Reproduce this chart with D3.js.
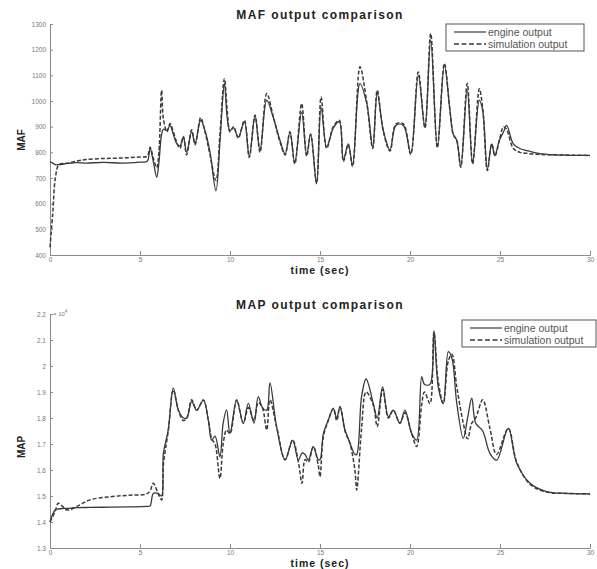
<!DOCTYPE html>
<html>
<head>
<meta charset="utf-8">
<script src="https://cdn.jsdelivr.net/npm/d3@7"></script>
<style>
  body { margin: 0; background: #fff; }
  svg { font-family: "Liberation Sans", Arial, sans-serif; }
</style>
</head>
<body>
<svg id="chart" width="597" height="569"></svg>
<script>
// MAF panel (time in sec)
const mafTime = [0, 0.15, 0.3, 0.5, 1.0, 1.5, 2.0, 3.0, 4.0, 5.0, 5.4, 5.56, 5.75, 5.93, 6.05, 6.2, 6.3, 6.5, 6.67, 6.85,
  7.04, 7.22, 7.41, 7.59, 7.87, 8.06, 8.37, 8.61, 8.89, 9.22, 9.45, 9.69, 9.85, 10.0, 10.2, 10.46, 10.8, 11.07, 11.39, 11.67,
  12.04, 12.4, 12.78, 13.06, 13.33, 13.6, 13.98, 14.26, 14.48, 14.81, 15.06, 15.37, 15.74, 16.07, 16.3, 16.57, 16.81, 17.22, 17.6, 17.93,
  18.18, 18.52, 18.89, 19.22, 19.63, 20.04, 20.46, 20.83, 21.15, 21.52, 21.91, 22.22, 22.4, 22.6, 22.82, 23.18, 23.48, 23.85, 24.04, 24.3,
  24.54, 24.72, 24.96, 25.2, 25.37, 25.74, 26.1, 26.48, 27.2, 28.1, 29.0, 30.0];
const mafEngine = [764, 758, 752, 752, 757, 760, 758, 761, 758, 762, 765, 815, 760, 703, 760, 870, 890, 885, 905, 870,
  834, 825, 859, 800, 880, 834, 925, 885, 800, 650, 850, 1068, 930, 885, 895, 859, 920, 785, 940, 810,
  1003, 937, 846, 794, 879, 760, 957, 790, 872, 677, 976, 820, 895, 920, 770, 833, 750, 1068, 990, 820,
  1030, 885, 810, 905, 905, 796, 1100, 898, 1237, 822, 1140, 963, 872, 846, 745, 1042, 758, 1003, 963, 735,
  833, 787, 846, 880, 905, 833, 815, 807, 795, 790, 788, 788];
const mafSim = [430, 560, 700, 752, 758, 766, 772, 776, 778, 782, 785, 820, 775, 740, 800, 1042, 930, 880, 912, 880,
  840, 815, 862, 790, 888, 830, 935, 880, 790, 690, 880, 1087, 960, 880, 900, 855, 925, 780, 945, 800,
  1029, 940, 840, 790, 880, 755, 990, 785, 870, 680, 1016, 815, 900, 925, 765, 830, 745, 1133, 995, 815,
  1042, 880, 805, 911, 911, 792, 1113, 895, 1263, 818, 1146, 963, 870, 846, 742, 1068, 755, 1048, 970, 729,
  833, 787, 846, 900, 890, 815, 800, 796, 792, 790, 789, 788];
const mafTicks = [400, 500, 600, 700, 800, 900, 1000, 1100, 1200, 1300];

// MAP panel (time in sec, values x10^4)
const mapTime = [0, 0.28, 0.46, 0.7, 0.93, 1.5, 2.22, 3.33, 4.4, 5.37, 5.56, 5.74, 6.0, 6.2, 6.3, 6.57, 6.85, 7.13, 7.41, 7.6,
  7.87, 8.15, 8.52, 8.8, 8.98, 9.17, 9.44, 9.62, 9.81, 10.0, 10.37, 10.74, 11.02, 11.33, 11.57, 11.8, 12.04, 12.22, 12.59, 13.06,
  13.48, 13.8, 14.0, 14.17, 14.35, 14.63, 14.9, 15.0, 15.19, 15.46, 15.74, 15.93, 16.11, 16.39, 16.67, 16.94, 17.04, 17.31, 17.56, 17.96,
  18.18, 18.48, 18.8, 19.07, 19.44, 19.72, 20.09, 20.37, 20.65, 20.8, 21.11, 21.33, 21.57, 21.85, 22.13, 22.33, 22.6, 22.96, 23.2, 23.43,
  23.65, 24.04, 24.44, 24.81, 25.46, 25.93, 26.67, 27.59, 28.7, 30.0];
const mapEngine = [1.40, 1.446, 1.45, 1.452, 1.452, 1.455, 1.456, 1.457, 1.458, 1.46, 1.462, 1.51, 1.51, 1.50, 1.664, 1.754, 1.915, 1.831, 1.80, 1.80,
  1.863, 1.83, 1.869, 1.79, 1.715, 1.73, 1.651, 1.78, 1.831, 1.74, 1.869, 1.78, 1.856, 1.78, 1.882, 1.84, 1.83, 1.935, 1.766, 1.638,
  1.715, 1.638, 1.665, 1.66, 1.638, 1.69, 1.64, 1.64, 1.741, 1.792, 1.837, 1.80, 1.843, 1.754, 1.703, 1.66, 1.66, 1.882, 1.95, 1.856,
  1.80, 1.92, 1.805, 1.83, 1.78, 1.83, 1.741, 1.715, 1.959, 1.93, 1.93, 2.135, 1.92, 1.856, 2.055, 2.03, 1.856, 1.722, 1.80, 1.876,
  1.78, 1.75, 1.664, 1.638, 1.76, 1.626, 1.549, 1.517, 1.51, 1.508];
const mapSim = [1.40, 1.44, 1.472, 1.46, 1.446, 1.46, 1.485, 1.497, 1.503, 1.508, 1.52, 1.549, 1.51, 1.485, 1.62, 1.75, 1.908, 1.83, 1.79, 1.80,
  1.87, 1.83, 1.869, 1.79, 1.72, 1.70, 1.568, 1.70, 1.754, 1.74, 1.869, 1.78, 1.84, 1.79, 1.86, 1.84, 1.754, 1.87, 1.766, 1.64,
  1.715, 1.63, 1.549, 1.64, 1.63, 1.69, 1.62, 1.574, 1.73, 1.79, 1.837, 1.79, 1.843, 1.75, 1.70, 1.60, 1.523, 1.76, 1.90, 1.85,
  1.767, 1.91, 1.80, 1.83, 1.78, 1.82, 1.741, 1.69, 1.85, 1.90, 1.856, 2.13, 1.94, 1.856, 2.02, 2.045, 1.92, 1.78, 1.72, 1.78,
  1.80, 1.87, 1.76, 1.66, 1.76, 1.63, 1.545, 1.515, 1.51, 1.508];
const mapTicks = [1.3, 1.4, 1.5, 1.6, 1.7, 1.8, 1.9, 2.0, 2.1, 2.2];

const timeTicks = [0, 5, 10, 15, 20, 25, 30];
const legendLabels = ["engine output", "simulation output"];

const svg = d3.select("#chart");
const lineColor = "#3a3a3a";
const axisColor = "#8a8a8a";

function drawPanel(cfg) {
  const x = d3.scaleLinear().domain([0, 30]).range([50, 590]);
  const y = d3.scaleLinear().domain(cfg.yDomain).range([cfg.bottom, cfg.top]);
  const g = svg.append("g");

  // axes (left + bottom only, like the original)
  const xAxis = g.append("g")
    .attr("transform", `translate(0,${cfg.bottom})`)
    .call(d3.axisBottom(x).tickValues(timeTicks).tickSize(-4).tickPadding(2));
  const yAxis = g.append("g")
    .attr("transform", "translate(50,0)")
    .call(d3.axisLeft(y).tickValues(cfg.ticks).tickSize(-3).tickPadding(4).tickFormat(cfg.fmt));
  [xAxis, yAxis].forEach(a => {
    a.select(".domain").attr("stroke", axisColor);
    a.selectAll(".tick line").attr("stroke", axisColor);
    a.selectAll(".tick text").attr("fill", "#777").style("font-size", "6.5px");
  });

  const pts = cfg.time.map((t, i) => ({ t, e: cfg.engine[i], s: cfg.sim[i] }));
  const mk = key => d3.line().x(d => x(d.t)).y(d => y(d[key])).curve(d3.curveCatmullRom.alpha(0.5));

  g.append("path").datum(pts).attr("d", mk("e"))
    .attr("fill", "none").attr("stroke", lineColor).attr("stroke-width", 1.3);
  g.append("path").datum(pts).attr("d", mk("s"))
    .attr("fill", "none").attr("stroke", lineColor).attr("stroke-width", 1.5)
    .attr("stroke-dasharray", "4,2");

  // title and labels
  g.append("text").attr("x", 320).attr("y", cfg.top - 5).attr("text-anchor", "middle")
    .style("font-size", "12px").style("font-weight", "bold").style("letter-spacing", "1.4px")
    .attr("fill", "#222").text(cfg.title);
  g.append("text").attr("x", 320).attr("y", cfg.bottom + 19).attr("text-anchor", "middle")
    .style("font-size", "10.5px").style("font-weight", "bold").style("letter-spacing", "1px")
    .attr("fill", "#222").text("time (sec)");
  g.append("text").attr("transform", `translate(25,${cfg.ylabelY}) rotate(-90)`)
    .attr("text-anchor", "middle")
    .style("font-size", "10px").style("font-weight", "bold")
    .attr("fill", "#222").text(cfg.ylabel);

  if (cfg.exponent) {
    const ex = g.append("text").attr("x", 53).attr("y", cfg.top + 2)
      .style("font-size", "6px").attr("fill", "#777");
    ex.append("tspan").text("\u00d7 10");
    ex.append("tspan").attr("dy", -3).style("font-size", "4.5px").text("4");
  }

  // legend
  const lg = g.append("g").attr("transform", `translate(${cfg.legend[0]},${cfg.legend[1]})`);
  lg.append("rect").attr("width", cfg.legend[2]).attr("height", 27)
    .attr("fill", "#fff").attr("stroke", "#555").attr("stroke-width", 1);
  legendLabels.forEach((lab, i) => {
    const yy = 8 + i * 12;
    lg.append("line").attr("x1", 8).attr("x2", 40).attr("y1", yy).attr("y2", yy)
      .attr("stroke", lineColor).attr("stroke-width", i ? 1.5 : 1.2)
      .attr("stroke-dasharray", i ? "5,2.5" : null);
    lg.append("text").attr("x", 42).attr("y", yy + 3.5)
      .style("font-size", "10.5px").attr("fill", "#555").text(lab);
  });
}

drawPanel({
  title: "MAF output comparison", ylabel: "MAF", ylabelY: 140,
  top: 24, bottom: 255, yDomain: [400, 1300], ticks: mafTicks, fmt: d3.format("d"),
  time: mafTime, engine: mafEngine, sim: mafSim, legend: [446, 24, 138]
});
drawPanel({
  title: "MAP output comparison", ylabel: "MAP", ylabelY: 447,
  top: 314, bottom: 548, yDomain: [1.3, 2.2], ticks: mapTicks, fmt: d => String(+d.toFixed(1)),
  time: mapTime, engine: mapEngine, sim: mapSim, legend: [462, 320, 134], exponent: true
});
</script>
</body>
</html>
